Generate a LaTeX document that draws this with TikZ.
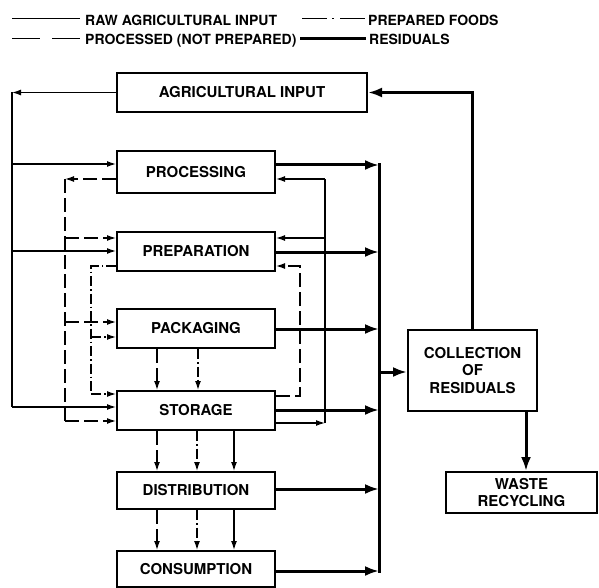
\documentclass[tikz,border=0pt]{standalone}
\usepackage{fontspec}
\setmainfont{TeX Gyre Heros}
\usetikzlibrary{arrows.meta}
\begin{document}
\begin{tikzpicture}[x=1pt,y=-1pt,
  box/.style={draw,line width=2pt,rectangle,inner sep=0pt,minimum width=158pt,minimum height=39pt,
    font=\fontsize{15}{17.5}\selectfont\bfseries,align=center},
  legtext/.style={anchor=base west,inner sep=0pt,font=\fontsize{14}{16}\selectfont\bfseries},
  raw/.style={line width=1.3pt},
  procd/.style={line width=1.3pt,dash pattern=on 14pt off 5pt},
  prepd/.style={line width=1.3pt,dash pattern=on 10pt off 3pt on 1.5pt off 3pt},
  res/.style={line width=3pt},
  thinarrow/.style={-{Latex[length=9pt,width=6pt]}},
  thickarrow/.style={-{Latex[length=14pt,width=10pt]}}
]
\useasboundingbox (0,0) rectangle (599,588);

% legend
\coordinate (l1a) at (12,18.5); \coordinate (l1b) at (80,18.5);
\coordinate (l2a) at (12,38.5); \coordinate (l2b) at (80,38.5);
\coordinate (l3a) at (302,18.5); \coordinate (l3b) at (365,18.5);
\coordinate (l4a) at (300,38.5); \coordinate (l4b) at (366,38.5);
\draw[raw] (l1a) -- (l1b);
\draw[line width=1.3pt,dash pattern=on 28pt off 12pt on 28pt] (l2a) -- (l2b);
\draw[line width=1.3pt,dash pattern=on 25pt off 5pt on 2pt off 6pt on 25pt] (l3a) -- (l3b);
\draw[res] (l4a) -- (l4b);
\node[legtext] (t1) at (85,25.5) {RAW AGRICULTURAL INPUT};
\node[legtext] (t2) at (85,44.5) {PROCESSED (NOT PREPARED)};
\node[legtext] (t3) at (368,25.5) {PREPARED FOODS};
\node[legtext] (t4) at (369,44.5) {RESIDUALS};

% boxes
\node[box,minimum width=250pt] (agri) at (242,92.5) {AGRICULTURAL INPUT};
\node[box,minimum height=42pt] (proc) at (196,172) {PROCESSING};
\node[box] (prep) at (196,251.5) {PREPARATION};
\node[box] (pack) at (196,328.5) {PACKAGING};
\node[box] (stor) at (196,410.5) {STORAGE};
\node[box,minimum height=37pt] (dist) at (196,490.5) {DISTRIBUTION};
\node[box,minimum height=36pt] (cons) at (196,569) {CONSUMPTION};
\node[box,minimum width=129pt,minimum height=81pt] (coll) at (472.5,370.5) {COLLECTION\\OF\\RESIDUALS};
\node[box,minimum width=151pt,minimum height=41pt] (waste) at (521.5,492.5) {WASTE\\RECYCLING};

% helper coordinates
\coordinate (busx) at (379,0);
\coordinate (rawx) at (12,0);
\coordinate (procx) at (65,0);
\coordinate (prepx) at (91,0);
\coordinate (rretx) at (325,0);
\coordinate (pretx) at (300,0);
\coordinate (wx) at (526,0);

% residuals
\draw[res,thickarrow] (proc.east |- 0,165) -- (busx |- 0,165);
\draw[res,thickarrow] (prep.east |- 0,252) -- (busx |- 0,252);
\draw[res,thickarrow] (pack.east |- 0,329) -- (busx |- 0,329);
\draw[res,thickarrow] (stor.east |- 0,410) -- (busx |- 0,410);
\draw[res,thickarrow] (dist.east |- 0,489) -- (busx |- 0,489);
\draw[res,thickarrow] (cons.east |- 0,571) -- (busx |- 0,571);
\draw[res] (busx |- 0,163.5) -- (busx |- 0,572.5);
\draw[res,thickarrow] (busx |- 0,372) -- (coll.west |- 0,372);
\draw[res,thickarrow] (coll.north) |- (agri.east);
\draw[res,thickarrow] (coll.south -| wx) -- (waste.north -| wx);

% raw agricultural input
\draw[raw,thinarrow] (agri.west) -- (rawx |- agri.west);
\draw[raw] (rawx |- agri.west) -- (rawx |- 0,407);
\draw[raw,thinarrow] (rawx |- 0,164) -- (proc.west |- 0,164);
\draw[raw,thinarrow] (rawx |- 0,251) -- (prep.west |- 0,251);
\draw[raw,thinarrow] (rawx |- 0,407) -- (stor.west |- 0,407);
\draw[raw,thinarrow] (stor.east |- 0,423) -- (rretx |- 0,423);
\draw[raw] (rretx |- 0,423) -- (rretx |- 0,179);
\draw[raw,thinarrow] (rretx |- 0,179) -- (proc.east |- 0,179);
\draw[raw,thinarrow] (rretx |- 0,238) -- (prep.east |- 0,238);

% processed (not prepared)
\draw[procd,thinarrow] (proc.west |- 0,179) -- (procx |- 0,179);
\draw[procd] (procx |- 0,179) -- (procx |- 0,421);
\draw[procd,thinarrow] (procx |- 0,238) -- (prep.west |- 0,238);
\draw[procd,thinarrow] (procx |- 0,322) -- (pack.west |- 0,322);
\draw[procd,thinarrow] (procx |- 0,421) -- (stor.west |- 0,421);
\draw[procd,thinarrow] (stor.east |- 0,396) -| (pretx |- 0,266) -- (prep.east |- 0,266);

% prepared foods
\draw[prepd] (prep.west |- 0,266) -| (prepx |- 0,394);
\draw[prepd,thinarrow] (prepx |- 0,394) -- (stor.west |- 0,394);
\draw[prepd,thinarrow] (prepx |- 0,337) -- (pack.west |- 0,337);

% downward flows
\draw[procd,thinarrow] (pack.south -| 157,0) -- (stor.north -| 157,0);
\draw[prepd,thinarrow] (pack.south -| 198,0) -- (stor.north -| 198,0);
\draw[procd,thinarrow] (stor.south -| 157,0) -- (dist.north -| 157,0);
\draw[prepd,thinarrow] (stor.south -| 197,0) -- (dist.north -| 197,0);
\draw[raw,thinarrow] (stor.south -| 234,0) -- (dist.north -| 234,0);
\draw[procd,thinarrow] (dist.south -| 157,0) -- (cons.north -| 157,0);
\draw[prepd,thinarrow] (dist.south -| 197,0) -- (cons.north -| 197,0);
\draw[raw,thinarrow] (dist.south -| 234,0) -- (cons.north -| 234,0);
\end{tikzpicture}
\end{document}
